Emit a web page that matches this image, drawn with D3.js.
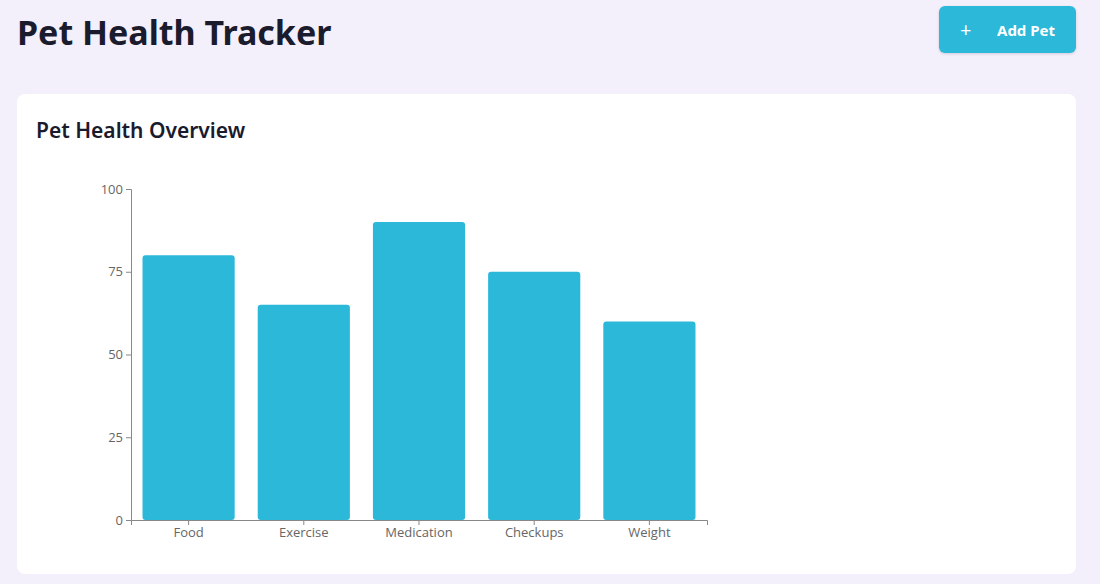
<!DOCTYPE html>
<html><head><meta charset="utf-8">
<script src="https://cdn.jsdelivr.net/npm/d3@7"></script>
<style>
body{margin:0;background:#f3effb;font-family:"Noto Sans",sans-serif;width:1100px;height:584px;overflow:hidden;position:relative}
h1{position:absolute;left:17px;top:9px;margin:0;font-size:34px;font-weight:700;color:#1b1b2e}
.btn{position:absolute;left:939px;top:6px;width:137px;height:47px;background:#2bb8d9;border-radius:6px;color:#fff;font-weight:700;font-size:15px;box-shadow:0 1px 3px rgba(0,0,0,.15)}
.btn span.p{position:absolute;left:21px;top:10px;font-size:20px;font-weight:400}
.btn span.t{position:absolute;left:58px;top:14px}
.card{position:absolute;left:17px;top:94px;width:1059px;height:480px;background:#fff;border-radius:8px}
h2{position:absolute;left:36px;top:116px;margin:0;font-size:21px;font-weight:600;color:#1b1b2e}
svg{position:absolute;left:0;top:0}
</style></head><body>
<h1>Pet Health Tracker</h1>
<div class="btn"><span class="p">+</span><span class="t">Add Pet</span></div>
<div class="card"></div>
<h2>Pet Health Overview</h2>
<svg width="1100" height="584"></svg>
<script>
const categories=["Food","Exercise","Medication","Checkups","Weight"];
const values=[80,65,90,75,60];
const yTicks=[0,25,50,75,100];
const svg=d3.select("svg");
const x=d3.scaleBand().domain(categories).range([131,707]).paddingInner(0.2).paddingOuter(0.1);
const y=d3.scaleLinear().domain([0,100]).range([520,189]);
svg.selectAll("rect.bar").data(values).join("rect").attr("class","bar")
 .attr("x",(d,i)=>x(categories[i])).attr("width",x.bandwidth())
 .attr("y",d=>y(d)).attr("height",d=>520-y(d)).attr("rx",3).attr("fill","#2bb8d9");
const ya=svg.append("g").attr("transform","translate(131,0)").call(d3.axisLeft(y).tickValues(yTicks).tickSize(5));
const xa=svg.append("g").attr("transform","translate(0,520)").call(d3.axisBottom(x).tickSize(5));
[ya,xa].forEach(a=>{a.selectAll("path,line").attr("stroke","#888");a.selectAll("text").attr("fill","#666").style("font-size","13px").style("font-family","'Open Sans',sans-serif");});
</script></body></html>
